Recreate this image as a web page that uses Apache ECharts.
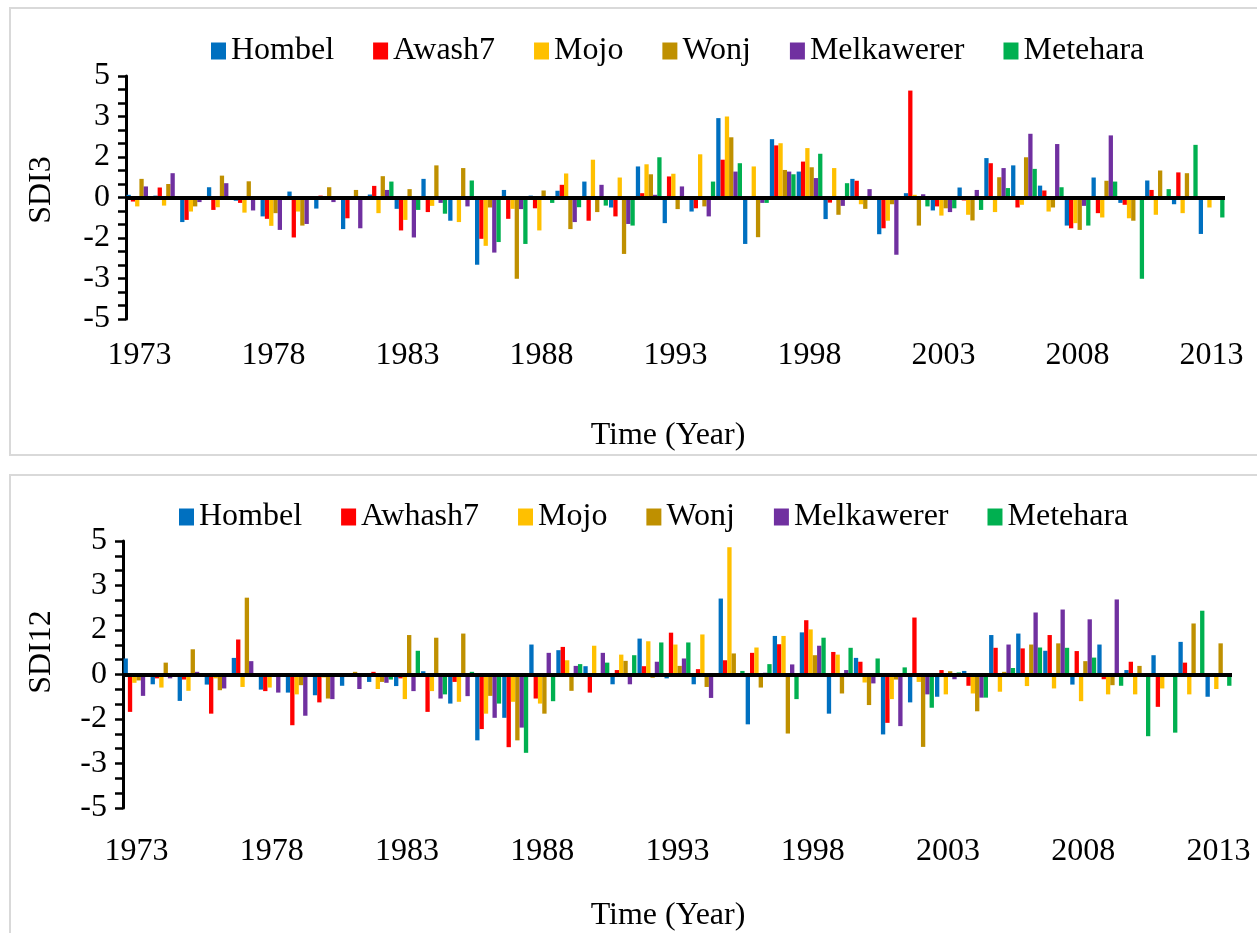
<!DOCTYPE html>
<html><head><meta charset="utf-8">
<script src="https://cdn.jsdelivr.net/npm/echarts@6/dist/echarts.min.js"></script>
<style>html,body{margin:0;padding:0;background:#fff}#c{width:1257px;height:933px}</style>
</head><body><div id="c"></div>
<script>
const years = ['1973','1974','1975','1976','1977','1978','1979','1980','1981','1982','1983','1984','1985','1986','1987','1988','1989','1990','1991','1992','1993','1994','1995','1996','1997','1998','1999','2000','2001','2002','2003','2004','2005','2006','2007','2008','2009','2010','2011','2012','2013'];

const namesTop = ['Hombel','Awash7','Mojo','Wonj','Melkawerer','Metehara'];
const namesBottom = ['Hombel','Awhash7','Mojo','Wonj','Melkawerer','Metehara'];
const colors = ['#0070C0','#FF0000','#FFC000','#BF9000','#7030A0','#00B050'];

// SDI3 (top panel)
const sdi3Hombel = [0.1,0.07,-0.91,0.38,-0.12,-0.7,0.22,-0.41,-1.17,0.11,-0.42,0.69,-0.86,-2.49,0.28,0.07,0.25,0.59,-0.37,1.15,-0.95,-0.52,2.94,-1.72,2.16,0.96,-0.8,0.69,-1.36,0.16,-0.48,0.37,1.46,1.19,0.44,-1.04,0.74,-0.2,0.63,-0.25,-1.35];
const sdi3Awash7 = [-0.15,0.37,-0.83,-0.46,-0.2,-0.79,-1.48,0.07,-0.77,0.43,-1.22,-0.54,0,-1.53,-0.79,-0.4,0.47,-0.86,-0.7,0.16,0.78,-0.4,1.4,0.03,1.93,1.33,-0.19,0.62,-1.14,3.96,-0.33,-0.11,1.27,-0.37,0.26,-1.14,-0.58,-0.27,0.28,0.93,0];
const sdi3Mojo = [-0.33,-0.3,-0.52,-0.36,-0.56,-1.05,-0.52,0,0,-0.58,-0.83,-0.31,-0.91,-1.79,-0.42,-1.22,0.89,1.4,0.74,1.23,0.88,1.6,3.0,1.15,2.01,1.83,1.09,-0.25,-0.86,0.1,-0.67,-0.64,-0.54,-0.27,-0.52,-0.95,-0.74,-0.77,-0.64,-0.58,-0.37];
const sdi3Wonj = [0.69,0.5,-0.33,0.81,0.6,-0.58,-1.04,0.38,0.28,0.79,0.31,1.19,1.09,-0.37,-3.01,0.26,-1.17,-0.54,-2.09,0.86,-0.43,-0.33,2.23,-1.47,1.02,1.12,-0.64,-0.42,-0.25,-1.04,-0.4,-0.85,0.75,1.49,-0.37,-1.2,0.62,-0.86,1.0,0.9,0];
const sdi3Melkawerer = [0.41,0.9,-0.17,0.53,-0.48,-1.2,-0.98,-0.17,-1.14,0.28,-1.48,-0.2,-0.33,-2.04,-0.43,0,-0.91,0.47,-0.98,0.1,0.41,-0.7,0.96,-0.2,0.96,0.72,-0.31,0.31,-2.12,0.12,-0.54,0.28,1.09,2.36,1.98,-0.31,2.3,null,null,null,null];
const sdi3Metehara = [null,null,null,null,null,null,null,null,null,0.59,-0.46,-0.6,0.63,-1.65,-1.72,-0.2,-0.36,-0.3,-1.04,1.49,0,0.59,1.27,-0.2,0.86,1.62,0.53,0,0,-0.33,-0.4,-0.46,0.35,1.06,0.38,-1.04,0.59,-3.01,0.31,1.95,-0.74];

// SDI12 (bottom panel)
const sdi12Hombel = [0.54,-0.33,-0.89,-0.34,0.56,-0.51,-0.61,-0.7,-0.38,-0.25,-0.39,0.11,-0.98,-2.22,-1.46,1.01,0.82,0.28,-0.33,1.21,-0.13,-0.33,2.56,-1.68,1.3,1.42,-1.32,0.56,-2.02,-0.94,-0.75,0.12,1.33,1.38,0.8,-0.34,1.01,0.15,0.65,1.1,-0.75];
const sdi12Awhash7 = [-1.26,-0.13,-0.17,-1.32,1.18,-0.56,-1.71,-0.94,0,0.09,-0.13,-1.26,-0.25,-1.84,-2.45,-0.81,0.93,-0.61,0.15,0.28,1.41,0.18,0.48,0.73,1.02,1.83,0.76,0.43,-1.63,1.92,0.15,-0.38,0.9,0.88,1.33,0.79,-0.16,0.43,-1.09,0.4,0];
const sdi12Mojo = [-0.28,-0.44,-0.55,-0.13,-0.42,-0.44,-0.67,-0.1,0,-0.49,-0.83,-0.56,-0.92,-1.32,-0.92,-0.98,0.48,0.97,0.67,1.12,1.01,1.35,4.29,0.91,1.3,1.52,0.67,-0.27,-0.83,-0.25,-0.67,-0.64,-0.58,-0.39,-0.47,-0.9,-0.67,-0.67,-0.47,-0.67,-0.49];
const sdi12Wonj = [-0.2,0.4,0.85,-0.53,2.59,0,-0.36,-0.81,0.09,-0.25,1.33,1.24,1.38,-0.72,-2.22,-1.32,-0.55,0,0.46,-0.11,0.29,-0.42,0.71,-0.44,-1.99,0.65,-0.64,-1.03,-0.17,-2.44,0.11,-1.24,0.09,1.01,1.05,0.45,-0.36,0.29,0,1.72,1.05];
const sdi12Melkawerer = [-0.72,-0.13,0.09,-0.47,0.45,-0.61,-1.39,-0.83,-0.49,-0.28,-0.56,-0.81,-0.73,-1.46,-1.79,0.73,0.29,0.73,-0.33,0.43,0.54,-0.79,-0.06,0.06,0.34,0.97,0.15,-0.3,-1.74,-0.67,-0.16,-0.78,1.01,2.09,2.19,1.86,2.53,null,null,null,null];
const sdi12Metehara = [null,null,null,null,null,null,null,null,null,-0.17,0.8,-0.67,0.09,-0.98,-2.64,-0.9,0.35,0.4,0.65,1.08,1.08,0,0.12,0.35,-0.83,1.24,0.9,0.54,0.24,-1.12,0.07,-0.78,0.22,0.91,0.9,0.57,-0.38,-2.08,-1.96,2.15,-0.38];

const topData = [sdi3Hombel, sdi3Awash7, sdi3Mojo, sdi3Wonj, sdi3Melkawerer, sdi3Metehara];
const bottomData = [sdi12Hombel, sdi12Awhash7, sdi12Mojo, sdi12Wonj, sdi12Melkawerer, sdi12Metehara];

const FONT = '"Liberation Serif", "Times New Roman", serif';
const tickFmt = v => { const r = Math.sign(v) * Math.round(Math.abs(v)); return r === 0 ? '0' : String(r); };

function makeSeries(names, data, idx) {
  return names.map((n, i) => {
    const s = {
      name: n, type: 'bar', xAxisIndex: idx, yAxisIndex: idx,
      data: data[i], barGap: '0%', barCategoryGap: '4%',
      itemStyle: { color: colors[i] }
    };
    if (i === names.length - 1) {
      s.markLine = {
        silent: true, symbol: ['none', 'none'], label: { show: false },
        lineStyle: { color: '#000', width: 4, type: 'solid' },
        data: [{ yAxis: 0 }]
      };
    }
    return s;
  });
}

function yAxisCfg(idx) {
  return {
    gridIndex: idx, type: 'value', min: -4.5, max: 4.5, interval: 1.5,
    axisLine: { show: true, lineStyle: { color: '#000', width: 3 } },
    axisTick: { show: true, length: 8, lineStyle: { color: '#000', width: 2.5 } },
    minorTick: { show: true, splitNumber: 3, length: 8, lineStyle: { color: '#000', width: 2.5 } },
    splitLine: { show: false },
    axisLabel: { formatter: tickFmt, fontSize: 32, fontFamily: FONT, color: '#000', margin: 16 }
  };
}

function xAxisCfg(idx, margin) {
  return {
    gridIndex: idx, type: 'category', data: years,
    axisLine: { show: false }, axisTick: { show: false },
    axisLabel: { interval: 4, fontSize: 32, fontFamily: FONT, color: '#000', margin: margin }
  };
}

const chart = echarts.init(document.getElementById('c'), null, { renderer: 'canvas' });
chart.setOption({
  animation: false,
  backgroundColor: '#fff',
  color: colors,
  graphic: [
    { type: 'rect', shape: { x: 10, y: 8, width: 1270, height: 447 }, style: { fill: 'none', stroke: '#d9d9d9', lineWidth: 2 }, z: -10 },
    { type: 'rect', shape: { x: 10, y: 475, width: 1270, height: 480 }, style: { fill: 'none', stroke: '#d9d9d9', lineWidth: 2 }, z: -10 },
    { type: 'text', x: 42, y: 190, rotation: Math.PI / 2, style: { text: 'SDI3', font: '32px ' + FONT, fill: '#000', align: 'center', verticalAlign: 'middle' } },
    { type: 'text', x: 42, y: 652, rotation: Math.PI / 2, style: { text: 'SDI12', font: '32px ' + FONT, fill: '#000', align: 'center', verticalAlign: 'middle' } },
    { type: 'text', x: 668, y: 436, style: { text: 'Time (Year)', font: '32px ' + FONT, fill: '#000', align: 'center', verticalAlign: 'middle' } },
    { type: 'text', x: 668, y: 916, style: { text: 'Time (Year)', font: '32px ' + FONT, fill: '#000', align: 'center', verticalAlign: 'middle' } }
  ],
  legend: [
    { data: namesTop, left: 206, top: 30, itemWidth: 15, itemHeight: 17, itemGap: 39, icon: 'rect',
      textStyle: { fontSize: 32, fontFamily: FONT, color: '#000' } },
    { data: namesBottom, left: 174, top: 496, itemWidth: 15, itemHeight: 17, itemGap: 39, icon: 'rect',
      textStyle: { fontSize: 32, fontFamily: FONT, color: '#000' } }
  ],
  grid: [
    { left: 126, right: 32, top: 76, height: 243 },
    { left: 123, right: 25, top: 541, height: 267 }
  ],
  xAxis: [xAxisCfg(0, 21), xAxisCfg(1, 28)],
  yAxis: [yAxisCfg(0), yAxisCfg(1)],
  series: makeSeries(namesTop, topData, 0).concat(makeSeries(namesBottom, bottomData, 1))
});
</script>
</body></html>
